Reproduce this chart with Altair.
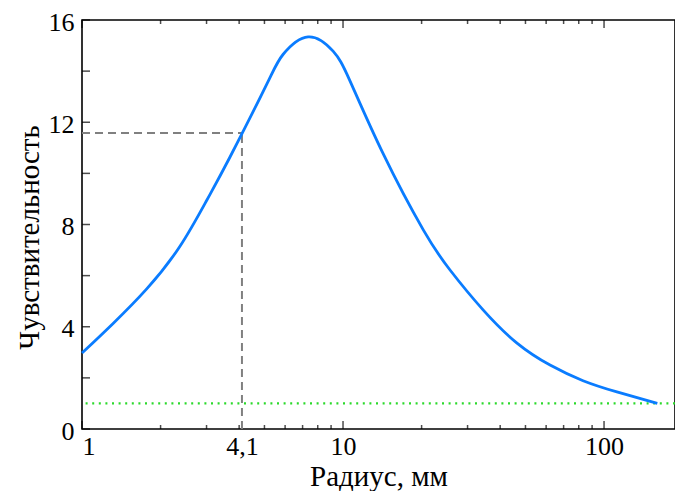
import altair as alt
import pandas as pd

# Data
radius = [1, 1.31, 1.77, 2.37, 3.01, 3.69, 5.11, 5.89, 7.35, 9.16, 10.6,
          14.2, 20.3, 25.7, 34.4, 46.4, 62.1, 83.1, 112, 160]
sens = [2.97, 4.11, 5.48, 7.14, 8.96, 10.64, 13.5, 14.65, 15.34, 14.78, 13.65,
        10.8, 7.79, 6.22, 4.66, 3.36, 2.5, 1.89, 1.45, 1.0]

marker_x = [1, 4.1]          # horizontal dashed guide from x=1 to x=4.1
marker_y = [0, 11.58]        # vertical dashed guide from y=0 to y=11.58
baseline_level = [1.0]       # green dotted level

x_domain = [1, 187]
y_domain = [0, 16]
x_label_values = [1, 4.1, 10, 100]
x_major = [1, 10, 100]
x_minor = [2, 3, 4, 5, 6, 7, 8, 9, 20, 30, 40, 50, 60, 70, 80, 90]
y_label_values = [0, 4, 8, 12, 16]
y_tick_values = [0, 2, 4, 6, 8, 10, 12, 14, 16]

W, H = 593, 409
FONT = "Liberation Serif"

df = pd.DataFrame({"r": radius, "s": sens})
hdf = pd.DataFrame({"r": [marker_x[0]], "r2": [marker_x[1]], "s": [marker_y[1]]})
vdf = pd.DataFrame({"r": [marker_x[1]], "s": [marker_y[0]], "s2": [marker_y[1]]})
gdf = pd.DataFrame({"s": baseline_level})
xmaj = pd.DataFrame({"r": x_major})
xmin = pd.DataFrame({"r": x_minor})
yt = pd.DataFrame({"s": y_tick_values})

xs = alt.Scale(type="log", domain=x_domain, nice=False)
ys = alt.Scale(domain=y_domain, nice=False)

x_axis = alt.Axis(
    orient="bottom", values=x_label_values, ticks=False, domain=False, grid=False,
    labelExpr="replace(toString(datum.value), '.', ',')",
    labelPadding=4, title="Радиус, мм", titlePadding=3)
y_axis = alt.Axis(
    orient="left", values=y_label_values, ticks=False, domain=False, grid=False,
    labelPadding=8, labelOffset=2, title="Чувствительность", titlePadding=4, titleY=217)

X = alt.X("r:Q", scale=xs, axis=x_axis)
Y = alt.Y("s:Q", scale=ys, axis=y_axis)

line = alt.Chart(df).mark_line(color="#0a7cff", strokeWidth=2.8, interpolate="natural").encode(
    x=X, y=Y)

hline = alt.Chart(hdf).mark_rule(color="#808080", strokeWidth=2, strokeDash=[8, 5]).encode(
    x=X, x2="r2:Q", y=Y)
vline = alt.Chart(vdf).mark_rule(color="#808080", strokeWidth=2, strokeDash=[8, 5]).encode(
    x=X, y=Y, y2="s2:Q")
gline = alt.Chart(gdf).mark_rule(color="#2bd92b", strokeWidth=2.2, strokeDash=[2, 4.6]).encode(
    y=Y)


def xticks(data, pos, size):
    return alt.Chart(data).mark_tick(orient="vertical", size=size, thickness=1.5, color="black").encode(
        x=X, y=alt.value(pos))


ticks_bottom_major = xticks(xmaj, H - 4, 8)
ticks_bottom_minor = xticks(xmin, H - 2, 4)
ticks_top_major = xticks(xmaj, 4, 8)
ticks_top_minor = xticks(xmin, 2, 4)
ticks_left = alt.Chart(yt).mark_tick(orient="horizontal", size=8, thickness=1.5, color="black").encode(
    y=Y, x=alt.value(4))

chart = alt.layer(
    gline, hline, vline, line,
    ticks_bottom_major, ticks_bottom_minor, ticks_top_major, ticks_top_minor, ticks_left,
).properties(
    width=W, height=H,
    autosize=alt.AutoSizeParams(type="none"),
    padding={"left": 74, "top": 12, "right": 0, "bottom": 62},
).configure_view(
    stroke="black", strokeWidth=1.6
).configure_axis(
    labelFont=FONT, labelFontSize=26, labelColor="black",
    titleFont=FONT, titleFontSize=29, titleFontWeight="normal", titleColor="black",
)

chart.save("out.html", embed_options={"renderer": "svg", "actions": False})
